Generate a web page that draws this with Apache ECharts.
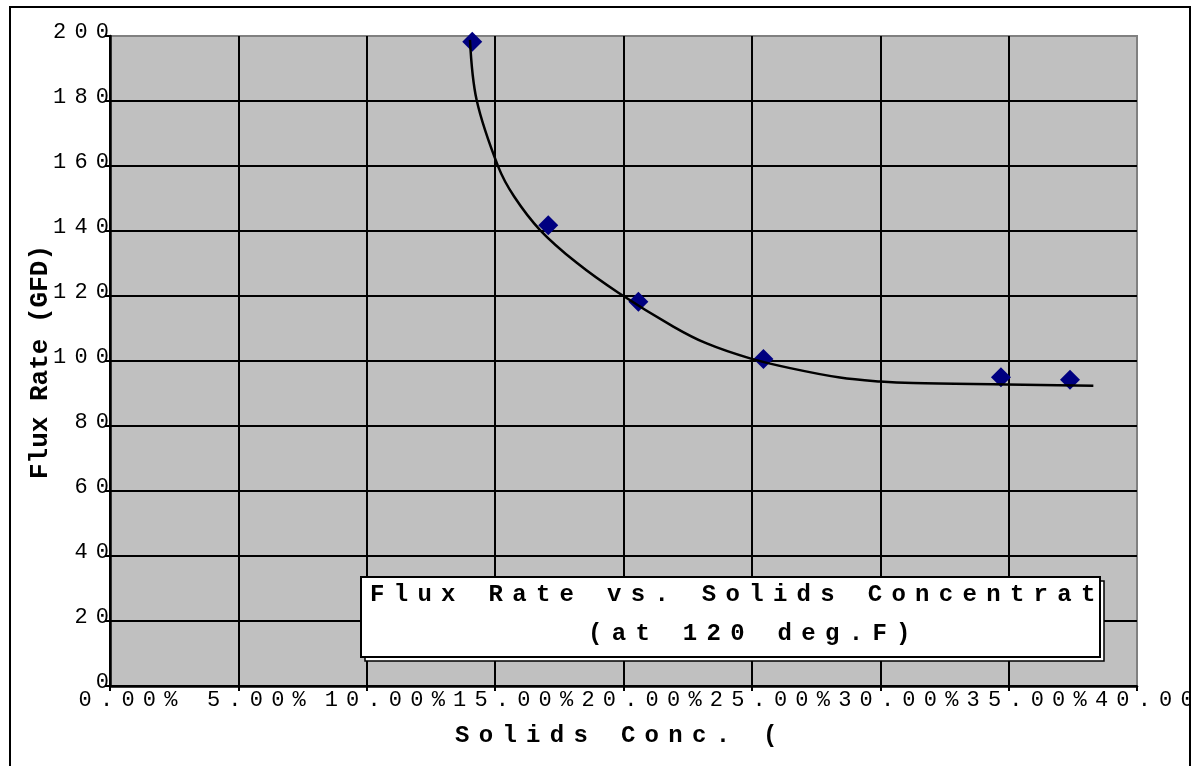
<!DOCTYPE html>
<html>
<head>
<meta charset="utf-8">
<script src="https://cdn.jsdelivr.net/npm/echarts@6/dist/echarts.min.js"></script>
<style>
  html, body { margin: 0; padding: 0; background: #fff; overflow: hidden; width: 1198px; height: 766px; }
  #chart { position: absolute; left: 9px; top: 6px; width: 1178px; height: 790px; border: 2px solid #000; background: #fff; }
</style>
</head>
<body>
<div id="chart"></div>
<script>
// Measured flux rate (GFD) against solids concentration (wt %)
const solidsPct = [14.11, 17.07, 20.58, 25.45, 34.70, 37.39];
const fluxRate  = [198.2, 141.8, 118.2, 100.6, 95.0, 94.2];

// Fitted trend curve, sampled along its length
const trendPct  = [14.02, 14.28, 15.12, 15.74, 16.75, 18.18, 19.80, 21.94, 23.24, 24.93, 26.49, 28.43, 29.99, 31.28, 34.93, 38.30];
const trendFlux = [198.8, 180.3, 159.8, 150.6, 140.3, 130.2, 121.0, 110.6, 105.4, 100.8, 97.8, 94.9, 93.7, 93.2, 92.8, 92.4];

// Tick labels
const xTickLabels = ['0.00%', '5.00%', '10.00%', '15.00%', '20.00%', '25.00%', '30.00%', '35.00%', '40.00%'];
const yTickLabels = ['0', '20', '40', '60', '80', '100', '120', '140', '160', '180', '200'];

// Titles
const titleLines = ['Flux Rate vs. Solids Concentrat', '(at 120 deg.F)'];
const xAxisTitle = 'Solids Conc. (';
const yAxisTitle = 'Flux Rate (GFD)';

const MONO = '"Liberation Mono", "DejaVu Sans Mono", monospace';

// Letter-spaced text: every character but the last gets a fixed-width cell
function spaced(str, key) {
  const chars = Array.from(str);
  return chars.map((c, i) => '{' + (i < chars.length - 1 ? key : key + 'End') + '|' + c + '}').join('');
}

const tickRich = {
  tk:    { fontFamily: MONO, fontSize: 22, color: '#000', width: 21.4, align: 'left' },
  tkEnd: { fontFamily: MONO, fontSize: 22, color: '#000', align: 'left' }
};
const headRich = {
  hd:    { fontFamily: MONO, fontSize: 24, fontWeight: 'bold', fill: '#000', width: 23.7, align: 'left' },
  hdEnd: { fontFamily: MONO, fontSize: 24, fontWeight: 'bold', fill: '#000', align: 'left' }
};

const chart = echarts.init(document.getElementById('chart'), null, { renderer: 'canvas' });

chart.setOption({
  animation: false,
  backgroundColor: '#fff',
  grid: {
    left: 99, right: 52, top: 28, bottom: 112,
    show: true,
    backgroundColor: '#C0C0C0',
    borderColor: '#808080',
    borderWidth: 2,
    containLabel: false,
    outerBoundsMode: 'none'
  },
  xAxis: {
    type: 'value',
    min: 0, max: 40, interval: 5,
    axisLine: { show: true, onZero: false, lineStyle: { color: '#000', width: 2.5 } },
    axisTick: { show: true, inside: false, length: 5, lineStyle: { color: '#000', width: 2 } },
    splitLine: { show: true, showMaxLine: false, lineStyle: { color: '#000', width: 2 } },
    axisLabel: {
      show: true, showMinLabel: true, showMaxLabel: true,
      margin: 3,
      align: 'center',
      padding: [0, 0, 0, 36],
      formatter: (v) => spaced(xTickLabels[Math.round(v / 5)], 'tk'),
      rich: tickRich
    }
  },
  yAxis: {
    type: 'value',
    min: 0, max: 200, interval: 20,
    axisLine: { show: true, onZero: false, lineStyle: { color: '#000', width: 2.5 } },
    axisTick: { show: true, inside: false, length: 5, lineStyle: { color: '#000', width: 2 } },
    splitLine: { show: true, showMaxLine: false, lineStyle: { color: '#000', width: 2 } },
    axisLabel: {
      show: true, showMinLabel: true, showMaxLabel: true,
      margin: 1,
      align: 'right',
      padding: [0, 0, 8, 0],
      formatter: (v) => spaced(yTickLabels[Math.round(v / 20)], 'tk'),
      rich: tickRich
    }
  },
  series: [
    {
      name: 'Trend',
      type: 'line',
      data: trendPct.map((x, i) => [x, trendFlux[i]]),
      smooth: 0.35,
      showSymbol: false,
      symbol: 'none',
      lineStyle: { color: '#000', width: 2.5 },
      z: 4
    },
    {
      name: 'Flux Rate',
      type: 'scatter',
      data: solidsPct.map((x, i) => [x, fluxRate[i]]),
      symbol: 'diamond',
      symbolSize: 20,
      itemStyle: { color: '#000080', opacity: 1 },
      z: 3
    }
  ],
  graphic: [
    // title box with offset outline
    { type: 'rect', z: 100, shape: { x: 354, y: 573, width: 739, height: 80 },
      style: { fill: '#fff', stroke: '#000', lineWidth: 1.5 } },
    { type: 'rect', z: 101, shape: { x: 350, y: 569, width: 739, height: 80 },
      style: { fill: '#fff', stroke: '#000', lineWidth: 2 } },
    { type: 'text', z: 102, x: 359, y: 587,
      style: { text: spaced(titleLines[0], 'hd'), rich: headRich, font: 'bold 24px ' + MONO, fill: '#000', align: 'left', verticalAlign: 'middle' } },
    { type: 'text', z: 102, x: 577, y: 626,
      style: { text: spaced(titleLines[1], 'hd'), rich: headRich, font: 'bold 24px ' + MONO, fill: '#000', align: 'left', verticalAlign: 'middle' } },
    // axis titles
    { type: 'text', z: 102, x: 444, y: 728,
      style: { text: spaced(xAxisTitle, 'hd'), rich: headRich, font: 'bold 24px ' + MONO, fill: '#000', align: 'left', verticalAlign: 'middle' } },
    { type: 'text', z: 102, x: 29, y: 354, rotation: Math.PI / 2,
      style: { text: yAxisTitle, font: 'bold 26px ' + MONO, fill: '#000', align: 'center', verticalAlign: 'middle' } }
  ]
});
</script>
</body>
</html>
